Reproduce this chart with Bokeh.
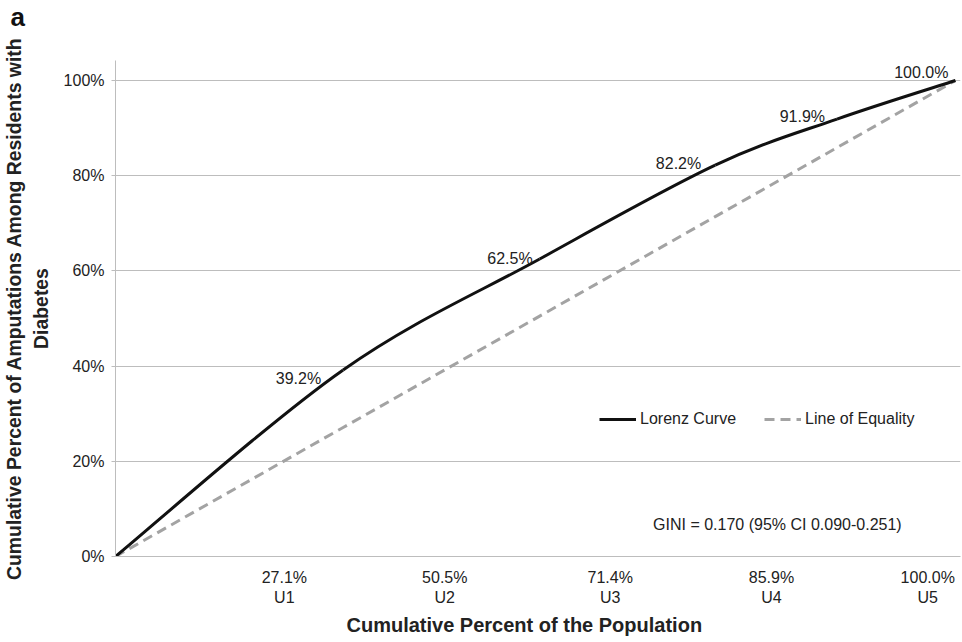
import numpy as np
from bokeh.plotting import figure
from bokeh.models import Range1d, FixedTicker, Label, Legend, LegendItem, Title
from bokeh.embed import file_html
from bokeh.resources import INLINE
from bokeh.core.properties import value

# Cumulative shares by quintile of the population (U1..U5), starting at the origin
population_pct = [0.0, 27.1, 50.5, 71.4, 85.9, 100.0]
amputation_pct = [0.0, 39.2, 62.5, 82.2, 91.9, 100.0]
quintiles = ["U1", "U2", "U3", "U4", "U5"]
y_ticks = [0, 20, 40, 60, 80, 100]
gini_text = "GINI = 0.170 (95% CI 0.090-0.251)"

# Category-style slots for the quintile labels along the x axis
quintile_slots = [20.1, 39.2, 58.9, 78.1, 96.7]
# Pixel nudges for the point labels (left of each point)
label_dx = [-22, -7, -14, -12, -7]
label_dy = [9, 0, -2, -3, -8]

FONT = "Liberation Sans"
TEXT = "#222222"
GRID = "#bdbdbd"

p = figure(width=962, height=642, output_backend="svg", toolbar_location=None,
           x_range=Range1d(0, 100.6), y_range=Range1d(0, 104.2),
           min_border_left=114, min_border_right=2, min_border_top=0,
           min_border_bottom=86)
p.outline_line_color = None
p.background_fill_color = "white"
p.border_fill_color = "white"

# Panel letter in the top-left corner (a blank second line keeps it near the top edge)
p.title.text = "a\n "
p.title.align = "left"
p.title.vertical_align = "top"
p.title.offset = -105
p.title.standoff = 2
p.title.text_line_height = 0.88
p.title.text_font = FONT
p.title.text_font_size = "26px"
p.title.text_font_style = "bold"
p.title.text_color = "#111111"

# Smoothed Lorenz curve: cubic Bezier segments through the points (Catmull-Rom tangents)
pts = np.column_stack([population_pct, amputation_pct])
padded = np.vstack([pts[:1], pts, pts[-1:]])
seg = {k: [] for k in ("x0", "y0", "x1", "y1", "cx0", "cy0", "cx1", "cy1")}
for i in range(len(pts) - 1):
    a, b, c, d = padded[i], padded[i + 1], padded[i + 2], padded[i + 3]
    c1 = b + (c - a) / 6.0
    c2 = c - (d - b) / 6.0
    seg["x0"].append(b[0]); seg["y0"].append(b[1])
    seg["x1"].append(c[0]); seg["y1"].append(c[1])
    seg["cx0"].append(c1[0]); seg["cy0"].append(c1[1])
    seg["cx1"].append(c2[0]); seg["cy1"].append(c2[1])

equality = p.line(population_pct, population_pct, line_color="#a3a3a3",
                  line_width=3, line_dash="10 6")
lorenz = p.bezier(line_color="#111111", line_width=3, **seg)

# Value labels on the Lorenz points
p.text(x=population_pct[1:], y=amputation_pct[1:],
       text=[f"{v:.1f}%" for v in amputation_pct[1:]],
       x_offset=label_dx, y_offset=label_dy,
       text_align="right", text_baseline="middle",
       text_font=value(FONT), text_font_size="16px", text_color=TEXT)

# Axes
p.xaxis.ticker = FixedTicker(ticks=quintile_slots)
p.xaxis.major_label_overrides = {
    s: f"{pop:.1f}%\n{q}" for s, pop, q in zip(quintile_slots, population_pct[1:], quintiles)
}
p.xaxis.major_tick_out = 0
p.xaxis.major_tick_in = 0
p.xaxis.minor_tick_out = 0
p.xaxis.minor_tick_in = 0
p.xaxis.axis_line_color = GRID
p.xaxis.major_label_standoff = 12

p.yaxis.ticker = FixedTicker(ticks=y_ticks)
p.yaxis.major_label_overrides = {t: f"{t}%" for t in y_ticks}
p.yaxis.major_tick_out = 4
p.yaxis.major_tick_in = 0
p.yaxis.minor_tick_out = 0
p.yaxis.minor_tick_in = 0
p.yaxis.major_tick_line_color = GRID
p.yaxis.axis_line_color = GRID
p.yaxis.major_label_standoff = 7
p.yaxis.axis_label = "Cumulative Percent of Amputations Among Residents with\nDiabetes"
p.yaxis.axis_label_standoff = 9
p.yaxis.axis_label_text_font = FONT
p.yaxis.axis_label_text_font_size = "19.4px"
p.yaxis.axis_label_text_font_style = "bold"
p.yaxis.axis_label_text_color = TEXT

for ax in (p.xaxis, p.yaxis):
    ax.major_label_text_font = FONT
    ax.major_label_text_font_size = "16px"
    ax.major_label_text_color = TEXT

# X axis title, starting a little left of centre
p.add_layout(Title(text="Cumulative Percent of the Population", align="left",
                   offset=231, standoff=6, text_font=FONT, text_font_size="20px",
                   text_font_style="bold", text_color=TEXT), "below")

p.xgrid.grid_line_color = None
p.ygrid.grid_line_color = GRID
p.ygrid.grid_line_width = 1

legend = Legend(items=[LegendItem(label="Lorenz Curve", renderers=[lorenz]),
                       LegendItem(label="Line of Equality", renderers=[equality])],
                location=(484, 127), orientation="horizontal",
                padding=0, margin=0, spacing=28, glyph_width=37, glyph_height=20,
                label_standoff=4, border_line_color=None, background_fill_alpha=0,
                label_text_font=FONT, label_text_font_size="16px", label_text_color=TEXT)
p.add_layout(legend)

p.add_layout(Label(x=64.0, y=6.7, text=gini_text, text_baseline="middle",
                   text_font=FONT, text_font_size="16px", text_color=TEXT))

open("out.html", "w").write(file_html(p, INLINE))
